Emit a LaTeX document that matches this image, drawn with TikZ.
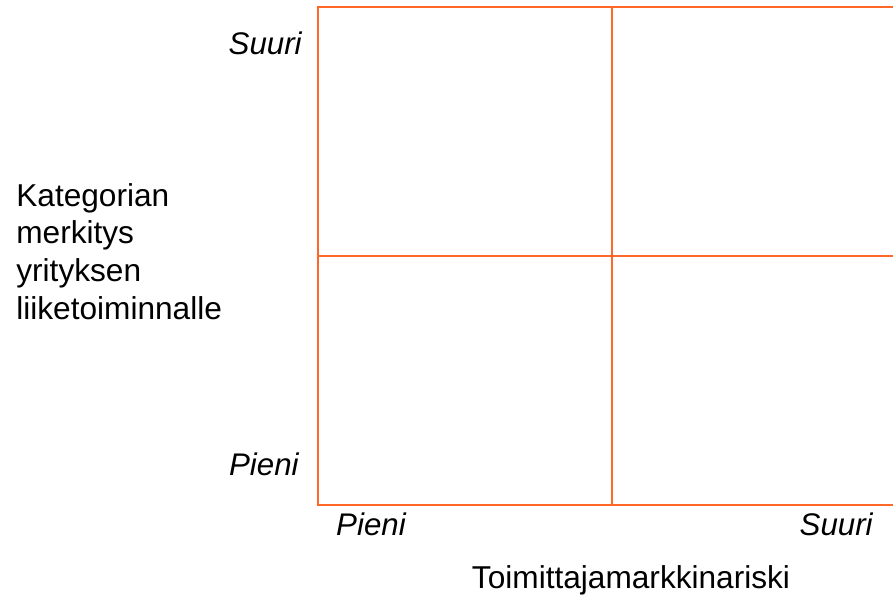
\documentclass[tikz,border=0pt]{standalone}
\usepackage{fontspec}
\setmainfont{Liberation Sans}
\begin{document}
\begin{tikzpicture}[x=0.02cm, y=-0.02cm, font=\fontsize{18}{21.4}\selectfont,
  gridline/.style={cGrid, line width=1.3pt},
  ticklabel/.style={inner sep=0pt, font=\fontsize{17.8}{21.4}\selectfont\itshape},
  axislabel/.style={inner sep=0pt, align=left}]

\definecolor{cGrid}{RGB}{255,104,40}

\useasboundingbox (0,0) rectangle (893,596);

%% 2x2 grid, right edge runs off the picture
\draw[gridline] (893,7) -- (318,7) -- (318,505) -- (893,505);
\draw[gridline] (612,7) -- (612,505);
\draw[gridline] (318,256) -- (893,256);

%% vertical axis
\node[axislabel, anchor=north west] (yaxis) at (16,183)
  {Kategorian\\merkitys\\yrityksen\\liiketoiminnalle};
\node[ticklabel, anchor=base east] (ySuuri) at (302,54) {Suuri};
\node[ticklabel, anchor=base east] (yPieni) at (299,475) {Pieni};

%% horizontal axis
\node[ticklabel, anchor=base] (xPieni) at (371,535) {Pieni};
\node[ticklabel, anchor=base east] (xSuuri) at (873,535) {Suuri};
\node[axislabel, anchor=base] (xaxis) at (631,588) {Toimittajamarkkinariski};

\end{tikzpicture}
\end{document}
